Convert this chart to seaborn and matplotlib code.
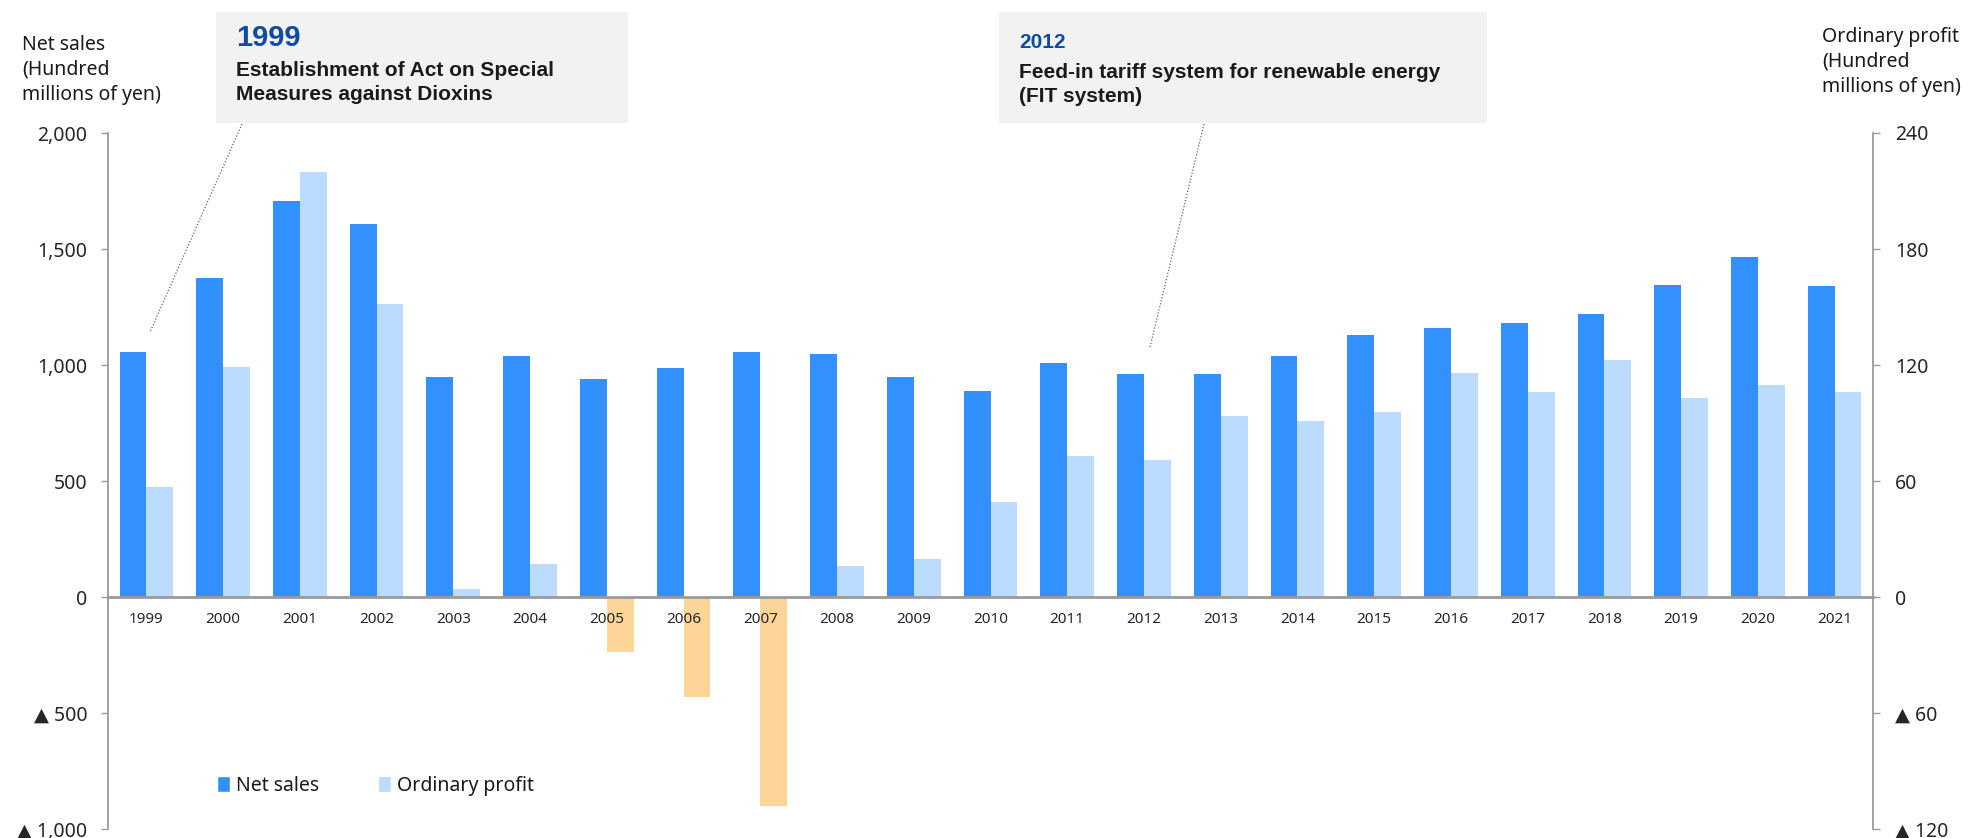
import numpy as np
import pandas as pd
import matplotlib
matplotlib.use('Agg')
import matplotlib.pyplot as plt
from matplotlib.patches import Patch, Rectangle
from matplotlib.lines import Line2D
from matplotlib.ticker import FuncFormatter
import seaborn as sns

# %% data (hundred millions of yen)
years = [str(y) for y in range(1999, 2022)]
net_sales = [1058, 1374, 1709, 1609, 949, 1037, 941, 985, 1055, 1047, 949, 890,
             1008, 962, 962, 1037, 1128, 1158, 1180, 1219, 1343, 1465, 1339]
ordinary_profit = [56.8, 118.9, 219.7, 151.7, 4.0, 16.9, -28.5, -51.5, -108.0, 15.8, 19.8, 48.9,
                   72.8, 70.9, 93.8, 90.8, 95.8, 116.0, 105.8, 122.8, 102.9, 109.8, 105.8]
series = ['Net sales', 'Ordinary profit']
sales_ticks = [-1000, -500, 0, 500, 1000, 1500, 2000]
profit_ticks = [-120, -60, 0, 60, 120, 180, 240]

events = [('1999', 'Establishment of Act on Special', 'Measures against Dioxins'),
          ('2012', 'Feed-in tariff system for renewable energy', '(FIT system)')]
left_title = ['Net sales', '(Hundred', 'millions of yen)']
right_title = ['Ordinary profit', '(Hundred', 'millions of yen)']

# %% style
sns.set_style('white')
plt.rcParams['font.family'] = ['Noto Sans', 'DejaVu Sans']
plt.rcParams['text.color'] = '#1a1a1a'
BOLD = ['Liberation Sans', 'DejaVu Sans']

BLUE = '#3391FF'
LIGHT = '#BBDCFF'
ORANGE = '#FDD598'
GREY = '#9a9a9a'
palette = {'Net sales': BLUE, 'Ordinary profit': LIGHT}

W, H = 1968, 838
fx = lambda px: px / W
fy = lambda py: 1 - py / H

sales_df = pd.DataFrame({'year': years, 'series': 'Net sales', 'value': net_sales})
profit_df = pd.DataFrame({'year': years, 'series': 'Ordinary profit', 'value': ordinary_profit})

fig = plt.figure(figsize=(W / 100, H / 100), dpi=100)
ax = fig.add_axes([fx(108), fy(829), (1873 - 108) / W, (829 - 133) / H])
ax2 = ax.twinx()
# sales axis (with the year labels) drawn above the profit bars
ax.set_zorder(ax2.get_zorder() + 1)
ax.patch.set_visible(False)

sns.barplot(data=sales_df, x='year', y='value', hue='series', hue_order=series, order=years,
            palette=palette, width=0.7, gap=0, dodge=True, legend=False, ax=ax,
            saturation=1, linewidth=0)
sns.barplot(data=profit_df, x='year', y='value', hue='series', hue_order=series, order=years,
            palette=palette, width=0.7, gap=0, dodge=True, legend=False, ax=ax2,
            saturation=1, linewidth=0)

# losses in orange
for p in ax2.patches:
    if p.get_height() < 0:
        p.set_facecolor(ORANGE)

ax.set_ylim(-1000, 2000)
ax2.set_ylim(-120, 240)
ax.set_xlim(-0.5, len(years) - 0.5)

def tri_fmt(v, pos=None):
    if v == 0:
        return '0'
    return ('▲ ' if v < 0 else '') + f'{abs(v):,.0f}'

ax.set_yticks(sales_ticks)
ax.yaxis.set_major_formatter(FuncFormatter(tri_fmt))
ax2.set_yticks(profit_ticks)
ax2.yaxis.set_major_formatter(FuncFormatter(tri_fmt))

for a in (ax, ax2):
    a.set_xlabel('')
    a.set_ylabel('')
    a.spines['top'].set_visible(False)

ax.spines['right'].set_visible(False)
ax.spines['left'].set_color(GREY)
ax.spines['left'].set_linewidth(1.3)
ax.spines['bottom'].set_position(('data', 0))
ax.spines['bottom'].set_color(GREY)
ax.spines['bottom'].set_linewidth(2)
ax2.spines['left'].set_visible(False)
ax2.spines['bottom'].set_visible(False)
ax2.spines['right'].set_color(GREY)
ax2.spines['right'].set_linewidth(1.3)

ax.tick_params(axis='y', direction='out', length=5, width=1, color=GREY, pad=10, labelsize=14)
ax2.tick_params(axis='y', direction='out', length=5, width=1, color=GREY, pad=11, labelsize=14)
ax.tick_params(axis='x', which='major', length=0, pad=11, labelsize=11)
ax.set_xticks(np.arange(0.5, len(years) - 1, 1), minor=True)
ax.tick_params(axis='x', which='minor', direction='out', length=5, width=1, color=GREY)
ax2.tick_params(axis='x', which='both', length=0, labelbottom=False)

# axis titles, one line at a time
for line, yy in zip(left_title, [45, 70, 95]):
    fig.text(fx(22), fy(yy), line, ha='left', va='center', fontsize=14)
for line, yy in zip(right_title, [37, 62, 87]):
    fig.text(fx(1822), fy(yy), line, ha='left', va='center', fontsize=14)

# event callouts
boxes = [(216, 628), (999, 1487)]
text_x = [236, 1019]
year_sizes = [21, 15]
year_y = [38, 43]
body_y = [(70, 95), (72, 97)]
leaders = [((242, 124), (150, 332)), ((1204, 124), (1150, 347))]
for (yr, l1, l2), (x0, x1), tx, ys, yy, (b1, b2), (p0, p1) in zip(
        events, boxes, text_x, year_sizes, year_y, body_y, leaders):
    fig.add_artist(Rectangle((fx(x0), fy(123)), (x1 - x0) / W, (123 - 12) / H,
                             transform=fig.transFigure, facecolor='#F2F2F2', edgecolor='none'))
    fig.text(fx(tx), fy(yy), yr, color='#0D4DA1', fontsize=ys, fontweight='bold',
             family=BOLD, va='center')
    fig.text(fx(tx), fy(b1), l1, fontsize=15, fontweight='bold', family=BOLD, va='center')
    fig.text(fx(tx), fy(b2), l2, fontsize=15, fontweight='bold', family=BOLD, va='center')
    fig.add_artist(Line2D([fx(p0[0]), fx(p1[0])], [fy(p0[1]), fy(p1[1])], transform=fig.transFigure,
                          color='#666666', lw=0.9, ls=(0, (1, 1.5))))

handles = [Patch(facecolor=BLUE, label='Net sales'), Patch(facecolor=LIGHT, label='Ordinary profit')]
ax.legend(handles=handles, loc='center left', bbox_to_anchor=(fx(207), fy(786)),
          bbox_transform=fig.transFigure, ncol=2, frameon=False, fontsize=14,
          handlelength=0.7, handleheight=0.9, handletextpad=0.3, columnspacing=3.0, borderpad=0)

fig.savefig('out.png', dpi=100)
